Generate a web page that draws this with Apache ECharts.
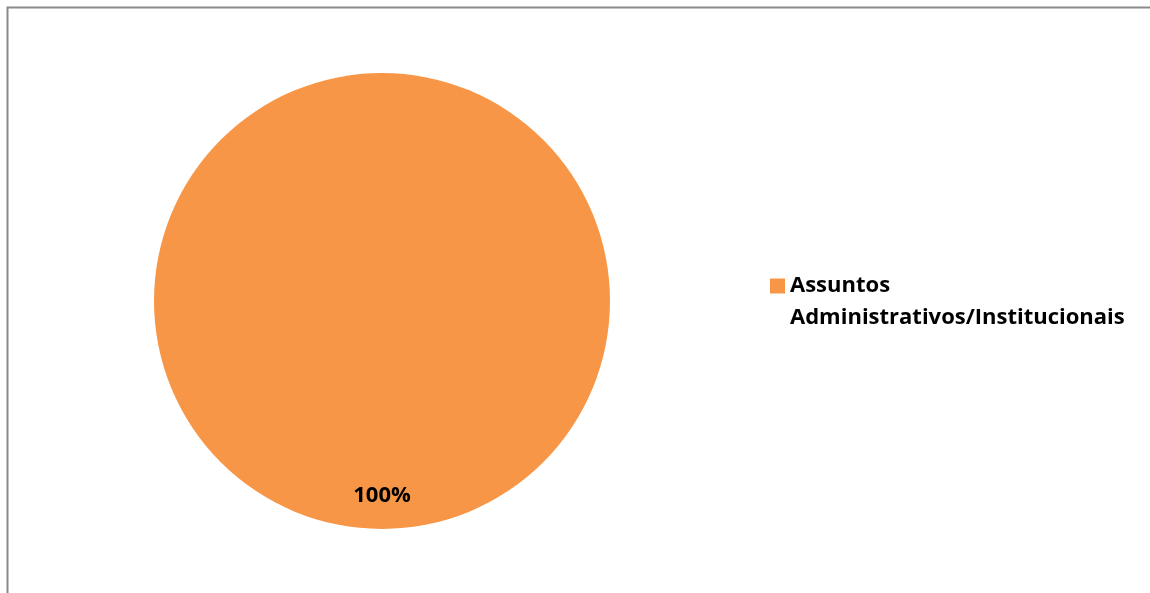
<!DOCTYPE html>
<html>
<head>
<meta charset="utf-8">
<script src="https://cdn.jsdelivr.net/npm/echarts@6/dist/echarts.min.js"></script>
<style>
  html, body { margin: 0; padding: 0; background: #fff; }
  #chart { width: 1150px; height: 593px; }
</style>
</head>
<body>
<div id="chart"></div>
<script>
// Subject categories and their share of the total
const categories = ['Assuntos Administrativos/Institucionais'];
const values = [100];
const colors = ['#F79646'];

const chart = echarts.init(document.getElementById('chart'), null, { renderer: 'canvas' });

const pieData = categories.map((name, i) => ({
  name: name,
  value: values[i],
  itemStyle: { color: colors[i] }
}));

chart.setOption({
  animation: false,
  backgroundColor: '#ffffff',
  graphic: [{
    // chart frame, running off the right and bottom edges
    type: 'rect',
    shape: { x: 7.5, y: 7.5, width: 1300, height: 700 },
    style: { fill: 'none', stroke: '#8a8a8a', lineWidth: 2 },
    silent: true
  }],
  legend: {
    orient: 'vertical',
    left: 770,
    top: 238,
    padding: 0,
    itemWidth: 15,
    itemHeight: 15,
    itemGap: 10,
    textGap: 9,
    icon: 'rect',
    // wrap after the first word; a leading blank line keeps the swatch level with the first line
    formatter: name => '\u00a0\n' + name.replace(' ', '\n'),
    textStyle: {
      fontFamily: 'Open Sans',
      fontWeight: 'bold',
      fontSize: 22,
      color: '#000',
      lineHeight: 32
    }
  },
  series: [{
    type: 'pie',
    center: [382, 301],
    radius: [0, 228],
    startAngle: 90,
    clockwise: true,
    data: pieData,
    itemStyle: { borderWidth: 0 },
    label: {
      show: true,
      position: 'inside',
      formatter: p => Math.round(p.percent) + '%',
      fontFamily: 'Open Sans',
      fontWeight: 'bold',
      fontSize: 22,
      color: '#000'
    },
    labelLayout: { dy: 78 },
    labelLine: { show: false },
    emphasis: { disabled: true }
  }]
});
</script>
</body>
</html>
